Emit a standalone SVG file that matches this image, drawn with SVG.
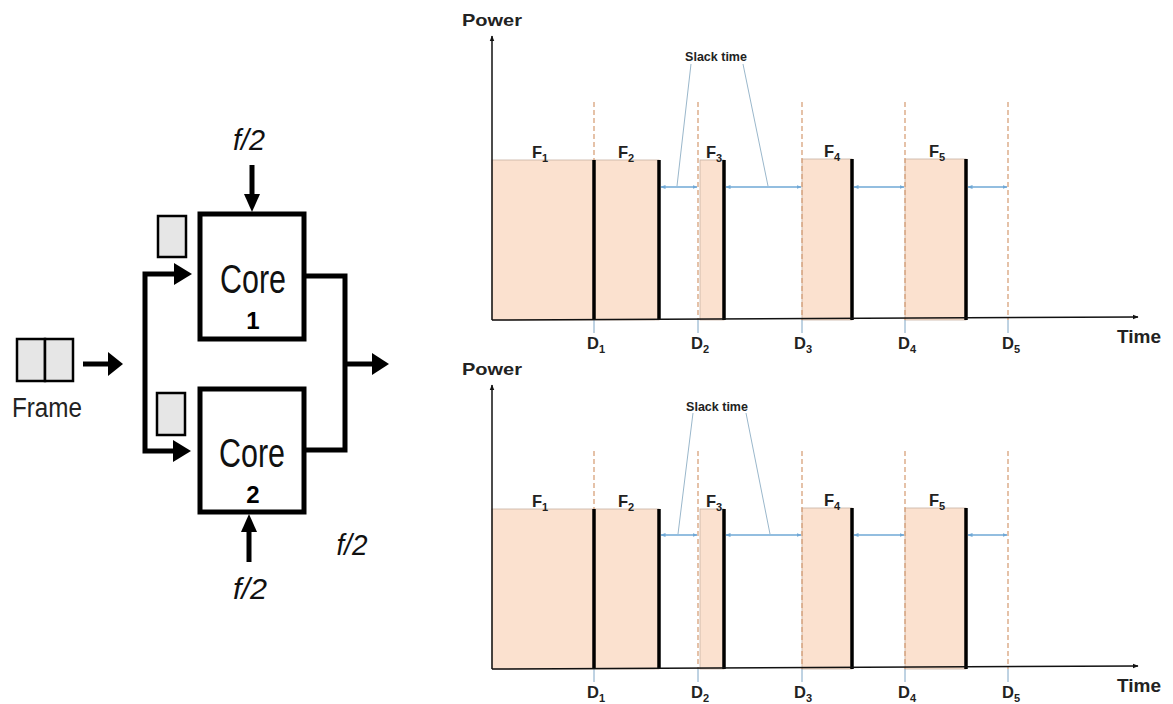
<svg xmlns="http://www.w3.org/2000/svg" width="1173" height="704" viewBox="0 0 1173 704">
<style>
.box{fill:#fff;stroke:#000;stroke-width:5}
.buf{fill:#e6e6e6;stroke:#000;stroke-width:2.5}
.wire{fill:none;stroke:#000;stroke-width:5}
.head{fill:#000}
.core{font-family:"Liberation Sans Narrow","Liberation Sans",sans-serif;font-size:40px;fill:#111}
.num{font-family:"Liberation Sans",sans-serif;font-size:24px;font-weight:bold;fill:#000}
.freq{font-family:"Liberation Sans Narrow","Liberation Sans",sans-serif;font-size:30px;font-style:italic;fill:#111}
.frame{font-family:"Liberation Sans Narrow","Liberation Sans",sans-serif;font-size:27px;fill:#222}
.ax{fill:none;stroke:#111;stroke-width:1.5}
.task{fill:#fbe1cf;stroke:#c9b2a4;stroke-width:0.8}
.bar{stroke:#000;stroke-width:3.5}
.dl{stroke:#d4996f;stroke-width:1.2;stroke-dasharray:5 3}
.tick{stroke:#7fa6c6;stroke-width:1}
.slack{stroke:#6fa8d6;stroke-width:1.3;marker-start:url(#sa);marker-end:url(#sa)}
.lead{stroke:#9ab7cb;stroke-width:1}
.lbl{font-family:"Liberation Sans",sans-serif;font-weight:bold;fill:#222}
.fd{font-size:16.5px}
.sub{font-size:11px}
</style>
<defs>
<marker id="sa" viewBox="0 0 10 10" refX="9" refY="5" markerWidth="5" markerHeight="5" orient="auto-start-reverse" markerUnits="userSpaceOnUse"><path d="M0,1 L10,5 L0,9 z" fill="#6fa8d6"/></marker>
<marker id="ah" viewBox="0 0 10 10" refX="9" refY="5" markerWidth="6" markerHeight="6" orient="auto" markerUnits="userSpaceOnUse"><path d="M0,1 L10,5 L0,9 z" fill="#111"/></marker>
</defs>
<rect width="1173" height="704" fill="#fff"/>

<!-- Left block diagram -->
<g id="frame">
<rect class="buf" x="17" y="339" width="28" height="42"/>
<rect class="buf" x="45" y="339" width="28" height="42"/>
<text class="frame" x="12" y="417" textLength="70" lengthAdjust="spacingAndGlyphs">Frame</text>
</g>
<g id="core1">
<rect class="box" x="200" y="214" width="104" height="125"/>
<text class="core" x="253" y="293" text-anchor="middle" textLength="66" lengthAdjust="spacingAndGlyphs">Core</text>
<text class="num" x="253" y="329" text-anchor="middle">1</text>
</g>
<g id="core2">
<rect class="box" x="200" y="389" width="104" height="123"/>
<text class="core" x="252" y="467" text-anchor="middle" textLength="66" lengthAdjust="spacingAndGlyphs">Core</text>
<text class="num" x="253" y="503" text-anchor="middle">2</text>
</g>
<g id="buffer1"><rect class="buf" x="158" y="216" width="28" height="41"/></g>
<g id="buffer2"><rect class="buf" x="157" y="393" width="28" height="42"/></g>
<g id="freq-labels">
<text class="freq" x="249" y="150" text-anchor="middle" textLength="32" lengthAdjust="spacingAndGlyphs">f/2</text>
<text class="freq" x="250" y="599" text-anchor="middle" textLength="34" lengthAdjust="spacingAndGlyphs">f/2</text>
<text class="freq" x="352" y="555" text-anchor="middle" textLength="31" lengthAdjust="spacingAndGlyphs">f/2</text>
</g>
<g id="connectors">
<line class="wire" x1="83" y1="364" x2="110" y2="364"/>
<polygon class="head" points="108,352 123,364 108,376"/>
<polyline class="wire" points="178,274 145,274 145,451 177,451"/>
<polygon class="head" points="174,263 192,274 174,285"/>
<polygon class="head" points="173,440 191,451 173,462"/>
<polyline class="wire" points="304,276 345,276 345,450 304,450"/>
<line class="wire" x1="345" y1="364" x2="374" y2="364"/>
<polygon class="head" points="372,353 389,364 372,375"/>
<line class="wire" x1="252" y1="165" x2="252" y2="198"/>
<polygon class="head" points="244,194 260,194 252,212"/>
<line class="wire" x1="249" y1="562" x2="249" y2="530"/>
<polygon class="head" points="241,532 257,532 249,514"/>
</g>

<!-- Top chart -->
<g id="chart-top">
<rect class="task" x="492" y="160" width="102" height="160"/>
<rect class="task" x="594" y="160" width="65" height="160"/>
<rect class="task" x="700" y="160" width="24" height="160"/>
<rect class="task" x="802" y="159" width="50" height="161"/>
<rect class="task" x="905" y="159" width="61" height="161"/>
<line class="dl" x1="594" y1="102" x2="594" y2="160"/>
<line class="dl" x1="698" y1="102" x2="698" y2="320"/>
<line class="dl" x1="802" y1="102" x2="802" y2="320"/>
<line class="dl" x1="905" y1="102" x2="905" y2="320"/>
<line class="dl" x1="1008" y1="102" x2="1008" y2="320"/>
<line class="tick" x1="594" y1="320" x2="594" y2="333"/>
<line class="tick" x1="698" y1="320" x2="698" y2="333"/>
<line class="tick" x1="802" y1="320" x2="802" y2="333"/>
<line class="tick" x1="905" y1="320" x2="905" y2="333"/>
<line class="tick" x1="1008" y1="320" x2="1008" y2="333"/>
<line class="bar" x1="594" y1="160" x2="594" y2="320"/>
<line class="bar" x1="659" y1="160" x2="659" y2="320"/>
<line class="bar" x1="724" y1="160" x2="724" y2="320"/>
<line class="bar" x1="852" y1="159" x2="852" y2="320"/>
<line class="bar" x1="966" y1="159" x2="966" y2="320"/>
<line class="slack" x1="661" y1="187" x2="697" y2="187"/>
<line class="slack" x1="726" y1="187" x2="801" y2="187"/>
<line class="slack" x1="854" y1="187" x2="904" y2="187"/>
<line class="slack" x1="968" y1="187" x2="1007" y2="187"/>
<line class="lead" x1="691" y1="64" x2="677" y2="186"/>
<line class="lead" x1="743" y1="64" x2="768" y2="186"/>
<text class="lbl" x="716" y="61" font-size="12.5" text-anchor="middle">Slack time</text>
<line class="ax" x1="492" y1="320" x2="492" y2="36" marker-end="url(#ah)"/>
<line class="ax" x1="492" y1="320" x2="1138" y2="317" marker-end="url(#ah)"/>
<text class="lbl" x="462" y="26" font-size="17" textLength="60" lengthAdjust="spacingAndGlyphs">Power</text>
<text class="lbl" x="1117" y="343" font-size="19">Time</text>
<text class="lbl fd" x="532" y="158">F<tspan class="sub" dy="4">1</tspan></text>
<text class="lbl fd" x="618" y="158">F<tspan class="sub" dy="4">2</tspan></text>
<text class="lbl fd" x="706" y="158">F<tspan class="sub" dy="4">3</tspan></text>
<text class="lbl fd" x="824" y="157">F<tspan class="sub" dy="4">4</tspan></text>
<text class="lbl fd" x="929" y="157">F<tspan class="sub" dy="4">5</tspan></text>
<text class="lbl fd" x="587" y="349">D<tspan class="sub" dy="4">1</tspan></text>
<text class="lbl fd" x="691" y="349">D<tspan class="sub" dy="4">2</tspan></text>
<text class="lbl fd" x="794" y="349">D<tspan class="sub" dy="4">3</tspan></text>
<text class="lbl fd" x="898" y="349">D<tspan class="sub" dy="4">4</tspan></text>
<text class="lbl fd" x="1002" y="349">D<tspan class="sub" dy="4">5</tspan></text>
</g>

<!-- Bottom chart -->
<g id="chart-bottom">
<rect class="task" x="492" y="509" width="102" height="160"/>
<rect class="task" x="594" y="509" width="65" height="160"/>
<rect class="task" x="700" y="509" width="24" height="160"/>
<rect class="task" x="802" y="508" width="50" height="161"/>
<rect class="task" x="905" y="508" width="61" height="161"/>
<line class="dl" x1="594" y1="451" x2="594" y2="509"/>
<line class="dl" x1="698" y1="451" x2="698" y2="669"/>
<line class="dl" x1="802" y1="451" x2="802" y2="669"/>
<line class="dl" x1="905" y1="451" x2="905" y2="669"/>
<line class="dl" x1="1008" y1="451" x2="1008" y2="669"/>
<line class="tick" x1="594" y1="669" x2="594" y2="682"/>
<line class="tick" x1="698" y1="669" x2="698" y2="682"/>
<line class="tick" x1="802" y1="669" x2="802" y2="682"/>
<line class="tick" x1="905" y1="669" x2="905" y2="682"/>
<line class="tick" x1="1008" y1="669" x2="1008" y2="682"/>
<line class="bar" x1="594" y1="509" x2="594" y2="669"/>
<line class="bar" x1="659" y1="509" x2="659" y2="669"/>
<line class="bar" x1="724" y1="509" x2="724" y2="669"/>
<line class="bar" x1="852" y1="508" x2="852" y2="669"/>
<line class="bar" x1="966" y1="508" x2="966" y2="669"/>
<line class="slack" x1="661" y1="535" x2="697" y2="535"/>
<line class="slack" x1="726" y1="535" x2="801" y2="535"/>
<line class="slack" x1="854" y1="535" x2="904" y2="535"/>
<line class="slack" x1="968" y1="535" x2="1007" y2="535"/>
<line class="lead" x1="693" y1="413" x2="678" y2="534"/>
<line class="lead" x1="746" y1="413" x2="770" y2="534"/>
<text class="lbl" x="717" y="411" font-size="12.5" text-anchor="middle">Slack time</text>
<line class="ax" x1="492" y1="669" x2="492" y2="385" marker-end="url(#ah)"/>
<line class="ax" x1="492" y1="669" x2="1138" y2="666" marker-end="url(#ah)"/>
<text class="lbl" x="462" y="375" font-size="17" textLength="60" lengthAdjust="spacingAndGlyphs">Power</text>
<text class="lbl" x="1117" y="692" font-size="19">Time</text>
<text class="lbl fd" x="532" y="507">F<tspan class="sub" dy="4">1</tspan></text>
<text class="lbl fd" x="618" y="507">F<tspan class="sub" dy="4">2</tspan></text>
<text class="lbl fd" x="706" y="507">F<tspan class="sub" dy="4">3</tspan></text>
<text class="lbl fd" x="824" y="506">F<tspan class="sub" dy="4">4</tspan></text>
<text class="lbl fd" x="929" y="506">F<tspan class="sub" dy="4">5</tspan></text>
<text class="lbl fd" x="587" y="698">D<tspan class="sub" dy="4">1</tspan></text>
<text class="lbl fd" x="691" y="698">D<tspan class="sub" dy="4">2</tspan></text>
<text class="lbl fd" x="794" y="698">D<tspan class="sub" dy="4">3</tspan></text>
<text class="lbl fd" x="898" y="698">D<tspan class="sub" dy="4">4</tspan></text>
<text class="lbl fd" x="1002" y="698">D<tspan class="sub" dy="4">5</tspan></text>
</g>
</svg>
